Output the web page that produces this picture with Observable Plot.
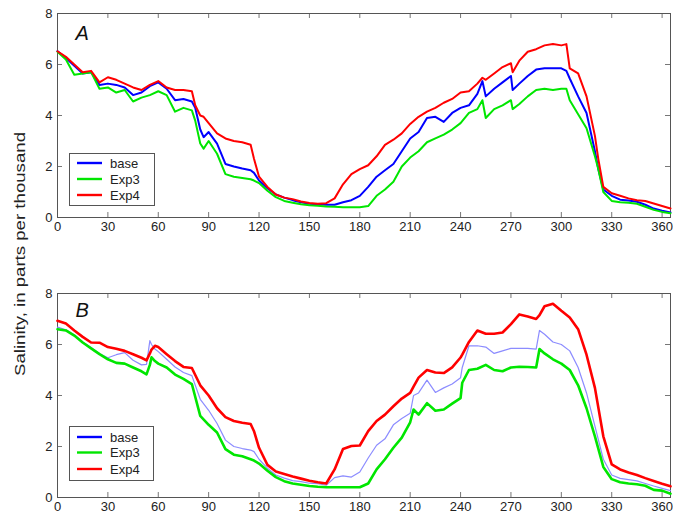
<!DOCTYPE html>
<html>
<head>
<meta charset="utf-8">
<script src="https://cdn.jsdelivr.net/npm/d3@7"></script>
<script src="https://cdn.jsdelivr.net/npm/@observablehq/plot@0.6"></script>
<style>
  body { margin: 0; background: #fff; }
  #chart { position: relative; width: 673px; height: 520px; font-family: "Liberation Sans", Arial, sans-serif; background: #fff; }
  #chart svg { display: block; }
  #overlay { position: absolute; left: 0; top: 0; pointer-events: none; }
</style>
</head>
<body>
<div id="chart"></div>
<script>
// ---------- data ----------
const seriesNames = ["base", "Exp3", "Exp4"];
const seriesColors = ["#0000ff", "#00e600", "#ff0000"];
const xTicks = [0, 30, 60, 90, 120, 150, 180, 210, 240, 270, 300, 330, 360];
const yTicks = [0, 2, 4, 6, 8];
const yLabel = "Salinity, in parts per thousand";
const panelLetters = ["A", "B"];

// Panel A
const daysA = [0,5,10,15,20,25,30,35,40,45,50,55,60,65,70,75,80,82,85,87,90,95,100,105,110,115,117,120,125,130,135,140,145,150,155,160,165,170,175,180,185,190,195,200,205,210,215,220,225,230,235,240,245,250,253,255,260,265,270,271,275,280,285,290,295,300,303,305,310,315,320,322,325,330,335,340,345,350,355,360,365];
const baseA = [6.52,6.25,5.95,5.65,5.7,5.2,5.25,5.2,5.1,4.8,4.9,5.15,5.3,5.05,4.6,4.65,4.55,4.3,3.45,3.15,3.35,2.9,2.1,2.0,1.92,1.85,1.75,1.45,1.15,0.9,0.78,0.68,0.6,0.54,0.52,0.5,0.5,0.6,0.68,0.85,1.2,1.6,1.85,2.1,2.6,3.1,3.35,3.9,3.95,3.75,4.1,4.3,4.4,4.85,5.35,4.75,5.05,5.3,5.55,5.0,5.25,5.55,5.8,5.85,5.85,5.85,5.75,5.45,4.75,4.1,2.6,1.9,1.1,0.85,0.7,0.67,0.62,0.5,0.35,0.27,0.2];
const exp3A = [6.5,6.2,5.6,5.65,5.7,5.05,5.1,4.9,5.0,4.55,4.7,4.8,4.95,4.8,4.15,4.3,4.2,3.8,2.9,2.7,3.0,2.5,1.7,1.6,1.55,1.5,1.45,1.35,1.05,0.8,0.65,0.58,0.52,0.48,0.46,0.43,0.42,0.4,0.4,0.4,0.45,0.85,1.1,1.4,2.0,2.35,2.6,2.95,3.1,3.25,3.45,3.7,4.1,4.25,4.6,3.9,4.25,4.4,4.6,4.25,4.45,4.75,5.0,5.05,5.0,5.05,5.05,4.6,4.05,3.5,2.4,1.9,1.0,0.65,0.6,0.58,0.54,0.42,0.3,0.22,0.17];
const exp4A = [6.52,6.3,6.0,5.7,5.75,5.3,5.5,5.4,5.25,5.1,5.0,5.2,5.35,5.1,5.0,5.0,4.95,4.4,4.0,3.95,3.7,3.3,3.1,3.0,2.95,2.85,2.3,1.6,1.2,0.9,0.78,0.72,0.63,0.57,0.54,0.56,0.75,1.3,1.7,1.9,2.05,2.4,2.85,3.05,3.3,3.67,3.95,4.15,4.3,4.5,4.65,4.9,4.95,5.25,5.48,5.4,5.65,5.9,6.05,5.7,6.15,6.5,6.6,6.75,6.8,6.75,6.8,5.85,5.65,4.75,3.2,2.3,1.2,0.95,0.85,0.75,0.68,0.65,0.55,0.45,0.35];

// Panel B
const daysB = [0,5,10,15,20,25,30,35,40,45,50,53,55,56,58,60,65,70,75,80,85,90,95,100,105,110,115,117,120,125,130,135,140,145,150,155,160,165,170,175,180,185,190,195,200,205,210,212,215,220,225,230,235,240,241,245,250,255,260,265,270,275,280,285,287,290,295,300,305,310,315,320,325,330,335,340,345,350,355,360,365];
const baseB = [6.68,6.58,6.38,6.1,5.88,5.65,5.48,5.6,5.68,5.38,5.2,5.22,6.15,6.0,5.82,5.72,5.42,5.12,4.9,4.78,3.85,3.42,2.9,2.25,2.0,1.92,1.86,1.8,1.5,1.15,0.88,0.76,0.66,0.62,0.56,0.54,0.48,0.78,0.85,0.8,1.0,1.55,2.05,2.3,2.85,3.1,3.3,4.0,4.1,4.6,4.12,4.3,4.45,4.7,5.1,5.95,5.95,5.9,5.65,5.75,5.85,5.85,5.85,5.82,6.55,6.4,6.1,6.0,5.75,5.1,4.1,2.8,1.5,0.88,0.75,0.7,0.65,0.55,0.45,0.36,0.27];
const exp3B = [6.6,6.55,6.35,6.08,5.85,5.62,5.42,5.28,5.25,5.1,4.95,4.83,5.2,5.5,5.35,5.25,5.1,4.82,4.65,4.45,3.2,2.85,2.55,1.9,1.68,1.62,1.5,1.45,1.33,1.05,0.8,0.64,0.55,0.5,0.45,0.42,0.4,0.4,0.4,0.4,0.4,0.55,1.1,1.5,1.95,2.35,2.95,3.45,3.25,3.7,3.4,3.45,3.68,3.9,4.5,5.0,5.05,5.2,5.0,4.95,5.1,5.13,5.12,5.1,5.82,5.65,5.42,5.25,5.0,4.4,3.5,2.4,1.2,0.72,0.6,0.55,0.52,0.46,0.3,0.27,0.15];
const exp4B = [6.93,6.82,6.55,6.3,6.08,6.07,5.9,5.83,5.75,5.62,5.48,5.38,5.65,5.8,5.95,5.9,5.62,5.35,5.12,5.08,4.4,4.0,3.5,3.15,3.0,2.93,2.88,2.6,1.95,1.28,1.02,0.92,0.82,0.74,0.66,0.6,0.55,1.1,1.9,2.02,2.04,2.6,3.0,3.25,3.58,3.88,4.1,4.35,4.7,5.0,4.9,4.88,5.1,5.49,5.6,6.1,6.55,6.42,6.42,6.47,6.8,7.18,7.1,7.0,7.15,7.5,7.6,7.32,7.06,6.6,5.6,4.3,2.4,1.3,1.1,0.98,0.88,0.76,0.65,0.54,0.44];

// ---------- drawing ----------
const FONT = '"Liberation Sans", Arial, sans-serif';
const rows = (days, vals) => days.map((d, i) => ({day: d, value: vals[i]}));
const FRAME_W = 673 - 57 - 3;   // inner plot width
const FRAME_H = 204;            // inner plot height
const TICK = 5;                 // inward tick length in px
const TICK_COLOR = "#777";

function panel({letter, days, base, exp3, exp4, marginTop, marginBottom, baseColor, baseWidth, expWidth, letterDy}) {
  return Plot.plot({
    width: 673,
    height: 260,
    marginLeft: 57,
    marginRight: 3,
    marginTop,
    marginBottom,
    x: {domain: [0, 365]},
    y: {domain: [0, 8]},
    style: {fontFamily: FONT, fontSize: "13px", color: "#222", background: "#fff", overflow: "visible"},
    marks: [
      Plot.axisX(xTicks, {anchor: "bottom", tickSize: 0, tickPadding: 4, label: null, fontSize: 13, fill: "#222"}),
      Plot.axisY(yTicks, {anchor: "left", tickSize: 0, tickPadding: 5, label: null, fontSize: 13, fill: "#222"}),
      // inward ticks on all four sides (MATLAB style)
      Plot.tickX(xTicks, {x: d => d, insetTop: FRAME_H - TICK, stroke: TICK_COLOR}),
      Plot.tickX(xTicks, {x: d => d, insetBottom: FRAME_H - TICK, stroke: TICK_COLOR}),
      Plot.tickY(yTicks, {y: d => d, insetRight: FRAME_W - TICK, stroke: TICK_COLOR}),
      Plot.tickY(yTicks, {y: d => d, insetLeft: FRAME_W - TICK, stroke: TICK_COLOR}),
      Plot.frame({stroke: "#555"}),
      Plot.lineY(rows(days, base), {x: "day", y: "value", stroke: baseColor, strokeWidth: baseWidth}),
      Plot.lineY(rows(days, exp3), {x: "day", y: "value", stroke: seriesColors[1], strokeWidth: expWidth}),
      Plot.lineY(rows(days, exp4), {x: "day", y: "value", stroke: seriesColors[2], strokeWidth: expWidth}),
      Plot.text([letter], {frameAnchor: "top-left", textAnchor: "start", lineAnchor: "top", dx: 18, dy: letterDy,
        fontSize: 20, fontStyle: "italic", fill: "#111", fontFamily: FONT})
    ]
  });
}

const chart = document.getElementById("chart");
chart.append(panel({letter: panelLetters[0], days: daysA, base: baseA, exp3: exp3A, exp4: exp4A,
  marginTop: 13, marginBottom: 43, baseColor: seriesColors[0], baseWidth: 2, expWidth: 2, letterDy: 12}));
chart.append(panel({letter: panelLetters[1], days: daysB, base: baseB, exp3: exp3B, exp4: exp4B,
  marginTop: 33, marginBottom: 23, baseColor: "#8c8cff", baseWidth: 1.2, expWidth: 2.6, letterDy: 9}));

// overlay: y label + legends
const ov = d3.select(chart).append("svg")
  .attr("id", "overlay").attr("width", 673).attr("height", 520)
  .style("font-family", FONT);

ov.append("text")
  .attr("transform", "translate(25,254) rotate(-90)")
  .attr("text-anchor", "middle")
  .attr("font-size", 15.5)
  .attr("fill", "#222")
  .attr("textLength", 244)
  .attr("lengthAdjust", "spacingAndGlyphs")
  .text(yLabel);

function legend(left, top, w, h, rowYs) {
  const g = ov.append("g").attr("transform", `translate(${left},${top})`);
  g.append("rect").attr("x", 0.5).attr("y", 0.5).attr("width", w).attr("height", h)
    .attr("fill", "#fff").attr("stroke", "#555").attr("stroke-width", 1);
  seriesNames.forEach((name, i) => {
    g.append("line").attr("x1", 8).attr("x2", 33).attr("y1", rowYs[i]).attr("y2", rowYs[i])
      .attr("stroke", seriesColors[i]).attr("stroke-width", 2.4);
    g.append("text").attr("x", 41).attr("y", rowYs[i]).attr("dy", "0.35em")
      .attr("font-size", 13).attr("fill", "#222").text(name);
  });
}
legend(69, 153, 85, 52, [10, 26, 42]);
legend(69, 426, 84, 54, [11, 26.5, 43]);
</script>
</body>
</html>
